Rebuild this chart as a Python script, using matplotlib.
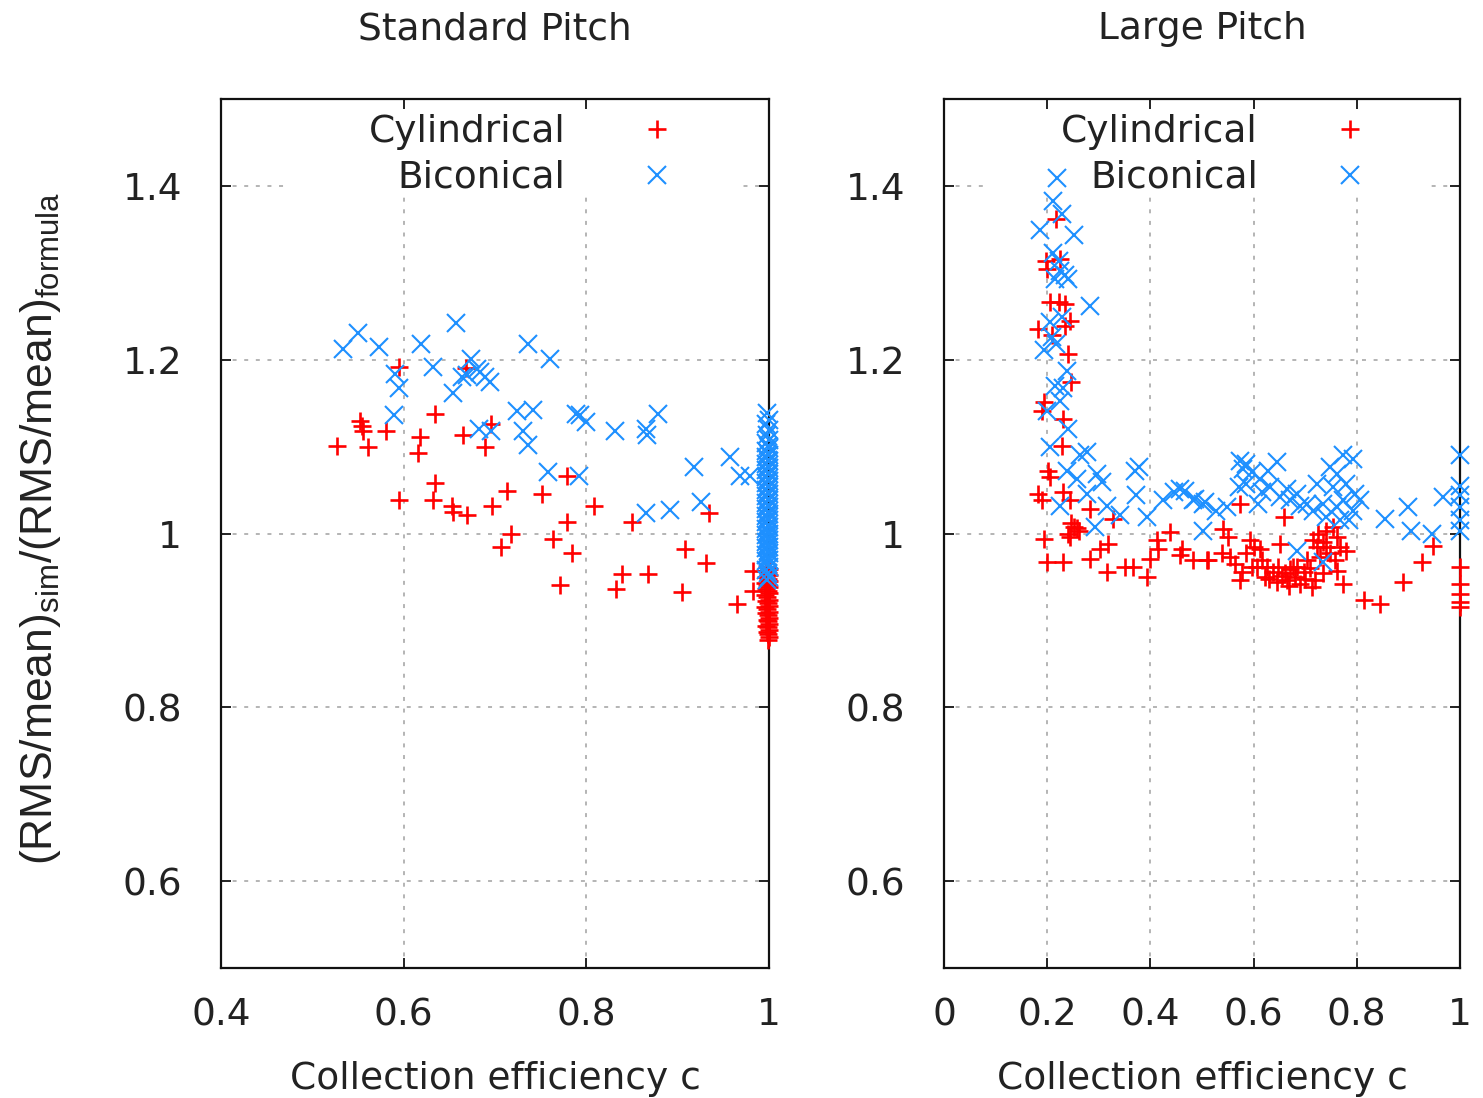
import matplotlib
matplotlib.use("Agg")
import matplotlib.pyplot as plt
from matplotlib.patches import Rectangle

plt.rcParams["font.family"] = "DejaVu Sans"
plt.rcParams["mathtext.fontset"] = "custom"
plt.rcParams["mathtext.rm"] = "Liberation Sans"

RED = "#ff0000"
BLUE = "#1e90ff"

# Standard pitch, cylindrical (x = collection efficiency, y = ratio)
std_cyl = [
    (0.527, 1.101), (0.552, 1.130), (0.554, 1.124), (0.555, 1.118), (0.561, 1.099),
    (0.581, 1.118), (0.595, 1.192), (0.618, 1.111), (0.616, 1.093), (0.634, 1.138),
    (0.665, 1.113), (0.668, 1.190), (0.689, 1.099), (0.696, 1.126), (0.634, 1.058),
    (0.595, 1.038), (0.632, 1.038), (0.653, 1.032), (0.654, 1.025), (0.669, 1.021),
    (0.697, 1.032), (0.713, 1.049), (0.752, 1.046), (0.779, 1.066), (0.718, 1.000),
    (0.707, 0.985), (0.763, 0.994), (0.779, 1.013), (0.784, 0.977), (0.808, 1.032),
    (0.771, 0.941), (0.850, 1.013), (0.839, 0.953), (0.832, 0.936), (0.868, 0.953),
    (0.908, 0.982), (0.931, 0.966), (0.905, 0.933), (0.934, 1.024), (0.965, 0.919),
    (0.983, 0.934), (0.983, 0.957),
    # full efficiency
    (0.998, 0.962), (1.000, 0.959), (0.997, 0.957), (0.999, 0.955), (1.000, 0.952),
    (0.997, 0.950), (0.999, 0.948), (1.000, 0.945), (0.996, 0.943), (0.998, 0.941),
    (1.000, 0.938), (0.997, 0.936), (0.999, 0.934), (1.000, 0.931), (0.996, 0.929),
    (0.998, 0.927), (1.000, 0.924), (0.997, 0.922), (0.999, 0.920), (1.000, 0.917),
    (0.996, 0.915), (0.998, 0.913), (1.000, 0.910), (0.997, 0.908), (0.999, 0.906),
    (1.000, 0.903), (0.998, 0.901), (0.999, 0.899), (1.000, 0.896), (0.997, 0.894),
    (0.999, 0.892), (1.000, 0.889), (0.998, 0.887), (0.999, 0.884), (1.000, 0.881),
    (0.999, 0.877),
]

# Standard pitch, biconical
std_bic = [
    (0.534, 1.212), (0.550, 1.231), (0.573, 1.215), (0.619, 1.218), (0.657, 1.242),
    (0.736, 1.218), (0.760, 1.201), (0.674, 1.201), (0.591, 1.184), (0.632, 1.192),
    (0.595, 1.167), (0.654, 1.162), (0.664, 1.180), (0.684, 1.186), (0.695, 1.174),
    (0.669, 1.182), (0.680, 1.189), (0.689, 1.180), (0.589, 1.136), (0.683, 1.120),
    (0.696, 1.118), (0.724, 1.141), (0.742, 1.142), (0.731, 1.118), (0.736, 1.102),
    (0.789, 1.138), (0.800, 1.128), (0.793, 1.136), (0.831, 1.118), (0.865, 1.120),
    (0.866, 1.113), (0.879, 1.138), (0.758, 1.071), (0.792, 1.066), (0.918, 1.077),
    (0.957, 1.088), (0.968, 1.066), (0.979, 1.066), (0.865, 1.024), (0.892, 1.027),
    (0.926, 1.036),
    # full efficiency
    (0.998, 1.139), (1.000, 1.131), (0.997, 1.126), (1.000, 1.119), (0.998, 1.113),
    (1.000, 1.108), (0.997, 1.104), (0.999, 1.101), (1.000, 1.098), (0.997, 1.095),
    (0.999, 1.093), (1.000, 1.090), (0.997, 1.088), (0.999, 1.085), (1.000, 1.083),
    (0.997, 1.080), (0.999, 1.078), (1.000, 1.075), (0.997, 1.073), (0.999, 1.070),
    (1.000, 1.068), (0.997, 1.065), (0.999, 1.063), (1.000, 1.060), (0.997, 1.058),
    (0.999, 1.055), (1.000, 1.053), (0.997, 1.050), (0.999, 1.048), (1.000, 1.045),
    (0.997, 1.043), (0.999, 1.040), (1.000, 1.038), (0.997, 1.035), (0.999, 1.033),
    (1.000, 1.030), (0.997, 1.028), (0.999, 1.025), (1.000, 1.023), (0.997, 1.020),
    (0.999, 1.018), (1.000, 1.015), (0.997, 1.013), (0.999, 1.010), (1.000, 1.008),
    (0.997, 1.005), (0.999, 1.003), (1.000, 1.000), (0.997, 0.998), (0.999, 0.995),
    (1.000, 0.993), (0.997, 0.990), (0.999, 0.988), (1.000, 0.985), (0.997, 0.983),
    (0.999, 0.980), (1.000, 0.978), (0.997, 0.975), (0.999, 0.973), (1.000, 0.970),
    (0.997, 0.968), (0.999, 0.965), (1.000, 0.962), (0.997, 0.958), (0.999, 0.954),
    (1.000, 0.950), (0.998, 0.946),
]

# Large pitch, cylindrical
large_cyl = [
    (0.218, 1.362), (0.198, 1.314), (0.199, 1.304), (0.225, 1.316), (0.205, 1.266),
    (0.222, 1.266), (0.234, 1.264), (0.244, 1.245), (0.234, 1.239), (0.183, 1.235),
    (0.209, 1.228), (0.241, 1.207), (0.247, 1.174), (0.193, 1.151), (0.189, 1.141),
    (0.231, 1.132), (0.228, 1.101), (0.202, 1.072), (0.205, 1.065), (0.183, 1.046),
    (0.189, 1.038), (0.231, 1.048), (0.244, 1.038), (0.283, 1.028), (0.251, 1.007),
    (0.241, 1.000), (0.257, 1.006), (0.193, 0.994), (0.244, 0.996), (0.199, 0.967),
    (0.231, 0.967), (0.283, 0.971), (0.302, 0.982), (0.318, 0.988), (0.315, 0.956),
    (0.351, 0.961), (0.367, 0.961), (0.393, 0.950), (0.399, 0.971), (0.412, 0.992),
    (0.415, 0.982), (0.438, 1.002), (0.328, 1.017), (0.457, 0.975), (0.483, 0.969),
    (0.509, 0.969), (0.247, 1.012), (0.262, 1.003),
    (0.461, 0.982), (0.512, 0.969), (0.541, 1.005), (0.551, 0.996), (0.538, 0.978),
    (0.554, 0.973), (0.564, 0.965), (0.574, 1.034), (0.577, 0.956), (0.574, 0.946),
    (0.586, 0.977), (0.593, 0.992), (0.600, 0.984), (0.612, 0.982), (0.606, 0.961),
    (0.625, 0.961), (0.622, 0.950), (0.638, 0.956), (0.651, 0.988), (0.648, 0.961),
    (0.658, 1.019), (0.661, 0.954), (0.671, 0.959), (0.664, 0.946), (0.680, 0.950),
    (0.684, 0.961), (0.690, 0.942), (0.697, 0.956), (0.703, 0.969), (0.713, 0.938),
    (0.719, 0.946), (0.716, 0.992), (0.725, 1.000), (0.722, 0.984), (0.735, 0.954),
    (0.741, 1.003), (0.741, 0.984), (0.754, 1.007), (0.761, 0.996), (0.758, 0.969),
    (0.767, 0.984), (0.761, 0.957), (0.774, 0.942), (0.780, 0.980), (0.630, 0.948),
    (0.645, 0.944), (0.655, 0.951), (0.668, 0.940), (0.700, 0.948), (0.709, 0.960),
    (0.729, 0.973), (0.735, 0.990), (0.748, 0.978), (0.676, 0.962), (0.616, 0.970),
    (0.596, 0.962),
    (0.813, 0.923), (0.845, 0.919), (0.890, 0.944), (0.926, 0.967), (0.947, 0.986),
    (1.000, 0.961), (1.000, 0.942), (1.000, 0.930), (1.000, 0.921), (1.000, 0.915),
]

# Large pitch, biconical
large_bic = [
    (0.219, 1.409), (0.211, 1.383), (0.228, 1.368), (0.186, 1.349), (0.251, 1.344),
    (0.212, 1.323), (0.222, 1.314), (0.225, 1.302), (0.234, 1.298), (0.215, 1.293),
    (0.241, 1.293), (0.283, 1.262), (0.205, 1.243), (0.228, 1.249), (0.209, 1.226),
    (0.193, 1.211), (0.218, 1.218), (0.238, 1.187), (0.215, 1.170), (0.231, 1.168),
    (0.225, 1.153), (0.199, 1.141), (0.241, 1.120), (0.205, 1.099), (0.264, 1.090),
    (0.277, 1.094), (0.238, 1.072), (0.257, 1.063), (0.296, 1.069), (0.306, 1.059),
    (0.225, 1.032), (0.277, 1.046), (0.315, 1.032), (0.341, 1.021), (0.377, 1.076),
    (0.370, 1.072), (0.373, 1.044), (0.393, 1.019), (0.293, 1.007), (0.425, 1.038),
    (0.445, 1.048), (0.457, 1.051), (0.483, 1.038), (0.502, 1.034), (0.502, 1.003),
    (0.467, 1.049), (0.486, 1.040), (0.506, 1.036), (0.528, 1.026), (0.548, 1.030),
    (0.574, 1.084), (0.586, 1.080), (0.580, 1.074), (0.596, 1.071), (0.571, 1.053),
    (0.586, 1.057), (0.612, 1.063), (0.628, 1.072), (0.645, 1.082), (0.616, 1.048),
    (0.609, 1.034), (0.632, 1.053), (0.651, 1.042), (0.664, 1.051), (0.671, 1.038),
    (0.684, 1.046), (0.690, 1.032), (0.703, 1.034), (0.716, 1.026), (0.722, 1.057),
    (0.735, 1.034), (0.748, 1.076), (0.761, 1.069), (0.754, 1.053), (0.774, 1.090),
    (0.793, 1.086), (0.780, 1.057), (0.797, 1.046), (0.806, 1.038), (0.793, 1.026),
    (0.774, 1.038), (0.761, 1.030), (0.784, 1.015), (0.767, 1.015), (0.741, 1.019),
    (0.684, 0.980), (0.735, 0.967), (0.855, 1.017), (0.900, 1.030), (0.906, 1.003),
    (0.945, 1.000), (0.968, 1.042),
    (1.000, 1.090), (1.000, 1.055), (1.000, 1.044), (1.000, 1.030), (1.000, 1.015),
    (1.000, 1.003),
]

y_ticks = [0.6, 0.8, 1.0, 1.2, 1.4]
y_ticklabels = ["0.6", "0.8", "1", "1.2", "1.4"]
std_xticks = [0.4, 0.6, 0.8, 1.0]
std_xticklabels = ["0.4", "0.6", "0.8", "1"]
large_xticks = [0, 0.2, 0.4, 0.6, 0.8, 1.0]
large_xticklabels = ["0", "0.2", "0.4", "0.6", "0.8", "1"]

FS = 27
TXT = "#222222"
W, H = 1483, 1098
fig = plt.figure(figsize=(W / 100, H / 100), dpi=100)
ax1 = fig.add_axes([221 / W, 1 - 968 / H, 548 / W, 869 / H])
ax2 = fig.add_axes([944 / W, 1 - 968 / H, 516 / W, 869 / H])


def panel(ax, cyl, bic, xlim, xticks, xticklabels, title, key_box, key_x):
    cx, cy = zip(*cyl)
    bx, by = zip(*bic)
    l1, = ax.plot(cx, cy, ls="none", marker="+", ms=13, mew=1.9, color=RED,
                  clip_on=False, zorder=3, label="Cylindrical")
    l2, = ax.plot(bx, by, ls="none", marker="x", ms=13, mew=1.5, color=BLUE,
                  clip_on=False, zorder=4, label="Biconical")
    ax.set_xlim(*xlim)
    ax.set_ylim(0.5, 1.5)
    ax.set_xticks(xticks)
    ax.set_xticklabels(xticklabels)
    ax.set_yticks(y_ticks)
    ax.set_yticklabels(y_ticklabels)

    # dotted grid, hidden behind the key area
    for v in xticks:
        if xlim[0] < v < xlim[1]:
            ax.axvline(v, color="#a0a0a0", lw=1.1, ls=(0, (2.6, 5)), zorder=0.5)
    for v in y_ticks:
        ax.axhline(v, color="#a0a0a0", lw=1.1, ls=(0, (2.6, 5)), zorder=0.5)
    ax.add_patch(Rectangle((key_box[0], key_box[1]), key_box[2], key_box[3],
                           transform=ax.transAxes, facecolor="white",
                           edgecolor="none", zorder=1))

    ax.tick_params(direction="in", top=True, right=True, length=7, width=1.4,
                   labelsize=FS, color=TXT, labelcolor=TXT)
    ax.tick_params(axis="y", pad=28)
    ax.tick_params(axis="x", pad=21)
    for s in ax.spines.values():
        s.set_linewidth(1.6)
        s.set_color("#111111")
    ax.set_title(title, fontsize=FS, pad=43, color=TXT)
    ax.set_xlabel("Collection efficiency c", fontsize=FS, labelpad=20, color=TXT)
    leg = ax.legend(handles=[l1, l2], loc="upper right", bbox_to_anchor=(key_x, 0.983),
                    frameon=False, markerfirst=False, handlelength=1.0,
                    handletextpad=1.95, borderpad=0, borderaxespad=0,
                    labelspacing=0.27, fontsize=FS, numpoints=1)
    for t in leg.get_texts():
        t.set_color(TXT)


panel(ax1, std_cyl, std_bic, (0.4, 1.0), std_xticks, std_xticklabels,
      "Standard Pitch", (0.126, 0.887, 0.825, 0.113), 0.830)
panel(ax2, large_cyl, large_bic, (0.0, 1.0), large_xticks, large_xticklabels,
      "Large Pitch", (0.076, 0.887, 0.866, 0.113), 0.823)

ax1.set_ylabel(r"(RMS/mean)$_{\mathrm{sim}}$/(RMS/mean)$_{\mathrm{formula}}$",
               fontsize=32, family="Liberation Sans", color=TXT)
ax1.yaxis.set_label_coords(-0.288, 0.506)

fig.savefig("out.png", dpi=100)
